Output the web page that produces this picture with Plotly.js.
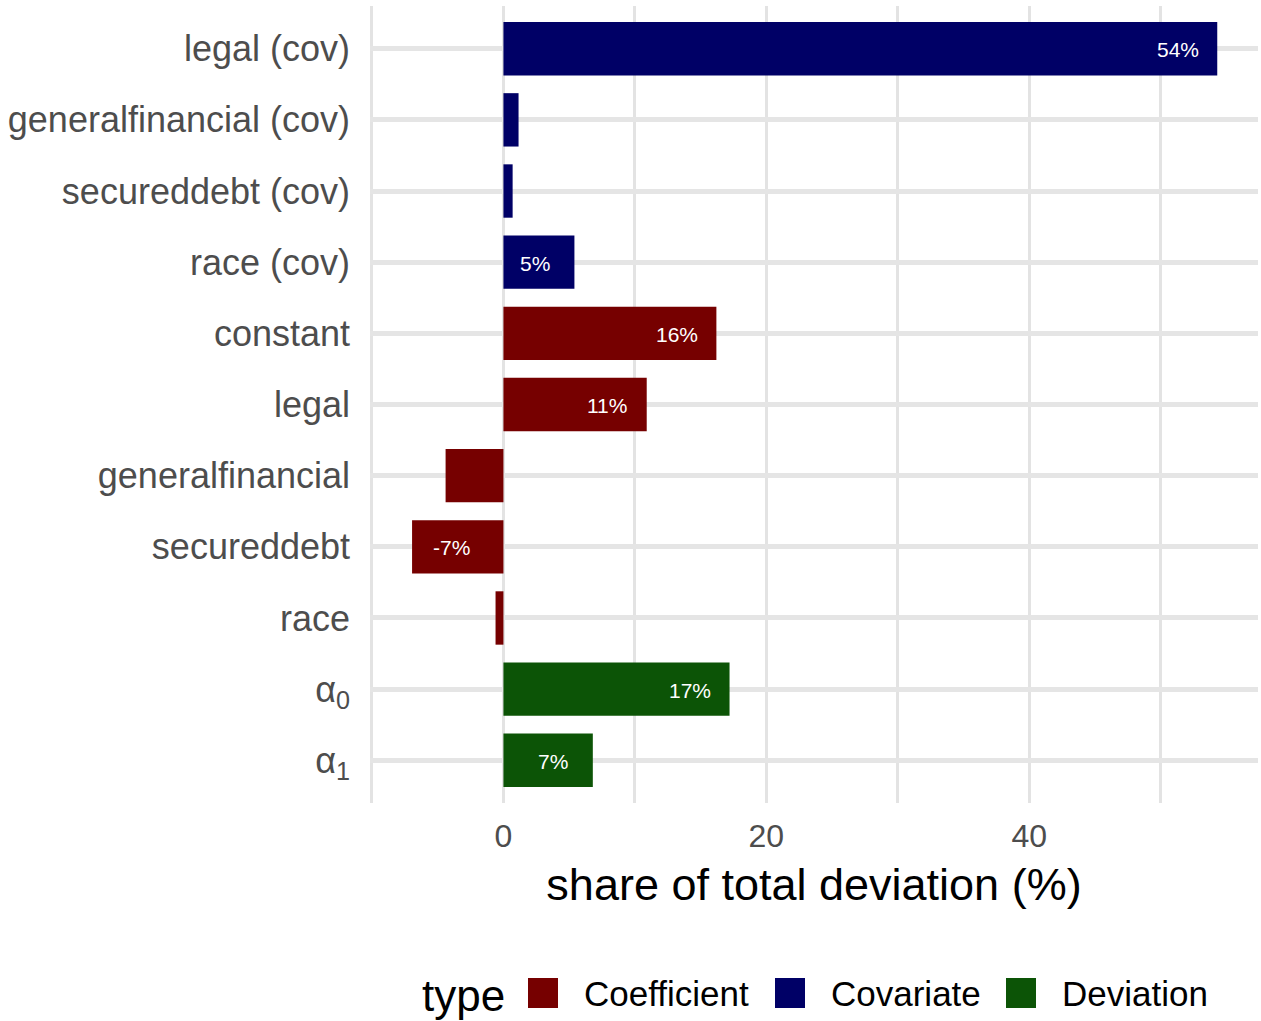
<!DOCTYPE html>
<html>
<head>
<meta charset="utf-8">
<script src="https://cdn.plot.ly/plotly-3.0.1.min.js"></script>
<style>html,body{margin:0;padding:0;background:#fff;}#chart{width:1261px;height:1021px;}</style>
</head>
<body>
<div id="chart"></div>
<script>
// ---- data ----
const categories = ["legal (cov)", "generalfinancial (cov)", "secureddebt (cov)", "race (cov)",
  "constant", "legal", "generalfinancial", "secureddebt", "race", "α<sub>0</sub>", "α<sub>1</sub>"];
const types = ["Covariate", "Covariate", "Covariate", "Covariate",
  "Coefficient", "Coefficient", "Coefficient", "Coefficient", "Coefficient", "Deviation", "Deviation"];
const shares = [54.3, 1.15, 0.7, 5.4, 16.2, 10.9, -4.4, -6.95, -0.6, 17.2, 6.8];
const barLabels = ["54%", "", "", "5%", "16%", "11%", "", "-7%", "", "17%", "7%"];
const typeNames = ["Coefficient", "Covariate", "Deviation"];
const typeColors = {Coefficient: "#760000", Covariate: "#000066", Deviation: "#0c5406"};

// ---- traces ----
const traces = typeNames.map(t => {
  const idx = categories.map((c, i) => i).filter(i => types[i] === t);
  return {
    type: "bar", orientation: "h", name: t, showlegend: false,
    y: idx.map(i => categories[i]), x: idx.map(i => shares[i]),
    width: 0.75, marker: {color: typeColors[t], line: {width: 0}},
    hoverinfo: "x+y"
  };
});

// ---- value labels inside bars (data coordinates) ----
const annotations = [];
categories.forEach((c, i) => {
  if (barLabels[i] === "") return;
  annotations.push({xref: "x", yref: "y", x: shares[i] - 3 * Math.sign(shares[i]), y: c,
    text: barLabels[i], showarrow: false, xanchor: "center", yanchor: "middle", yshift: -1,
    font: {family: "Liberation Sans, Arial, sans-serif", size: 21, color: "#ffffff"}});
});

// ---- custom legend (bottom) ----
const shapes = [];
const PL = 370, PW = 888, PB = 803, PH = 797;
const legFont = {family: "Liberation Sans, Arial, sans-serif", size: 35, color: "#000000"};
annotations.push({xref: "paper", yref: "paper", x: (420 - PL) / PW, y: -(996 - PB) / PH,
  xanchor: "left", yanchor: "middle", text: "type", showarrow: false,
  font: {family: "Liberation Sans, Arial, sans-serif", size: 44, color: "#000000"}});
const legX = [528, 775, 1006];
typeNames.forEach((t, k) => {
  shapes.push({type: "rect", xref: "paper", yref: "paper",
    x0: (legX[k] - PL) / PW, x1: (legX[k] + 30 - PL) / PW,
    y0: -(1008 - PB) / PH, y1: -(978 - PB) / PH,
    fillcolor: typeColors[t], line: {width: 0}});
  annotations.push({xref: "paper", yref: "paper", x: (legX[k] + 54 - PL) / PW, y: -(993 - PB) / PH,
    xanchor: "left", yanchor: "middle", text: t, showarrow: false, font: legFont});
});

const layout = {
  width: 1261, height: 1021,
  margin: {l: PL, r: 3, t: 6, b: 218, pad: 0},
  paper_bgcolor: "#ffffff", plot_bgcolor: "#ffffff",
  barmode: "overlay", showlegend: false,
  font: {family: "Liberation Sans, Arial, sans-serif"},
  xaxis: {
    range: [-10.15, 57.4], tickvals: [0, 20, 40], ticktext: ["0", "20", "40"],
    showgrid: true, gridcolor: "#e3e3e3", gridwidth: 3,
    minor: {tickvals: [-10, 10, 30, 50], showgrid: true, gridcolor: "#e3e3e3", gridwidth: 3},
    zeroline: false, showline: false, ticks: "", ticklabelstandoff: 11,
    tickfont: {size: 32, color: "#4d4d4d"},
    title: {text: "share of total deviation (%)", font: {size: 45, color: "#000000"}, standoff: 15},
    automargin: false
  },
  yaxis: {
    type: "category", categoryorder: "array", categoryarray: categories,
    range: [10.6, -0.6],
    showgrid: true, gridcolor: "#e5e5e5", gridwidth: 5,
    zeroline: false, showline: false, ticks: "", ticklabelstandoff: 19,
    tickfont: {size: 36, color: "#4d4d4d"},
    automargin: false
  },
  annotations: annotations, shapes: shapes
};

Plotly.newPlot("chart", traces, layout, {displayModeBar: false, staticPlot: true});
</script>
</body>
</html>
